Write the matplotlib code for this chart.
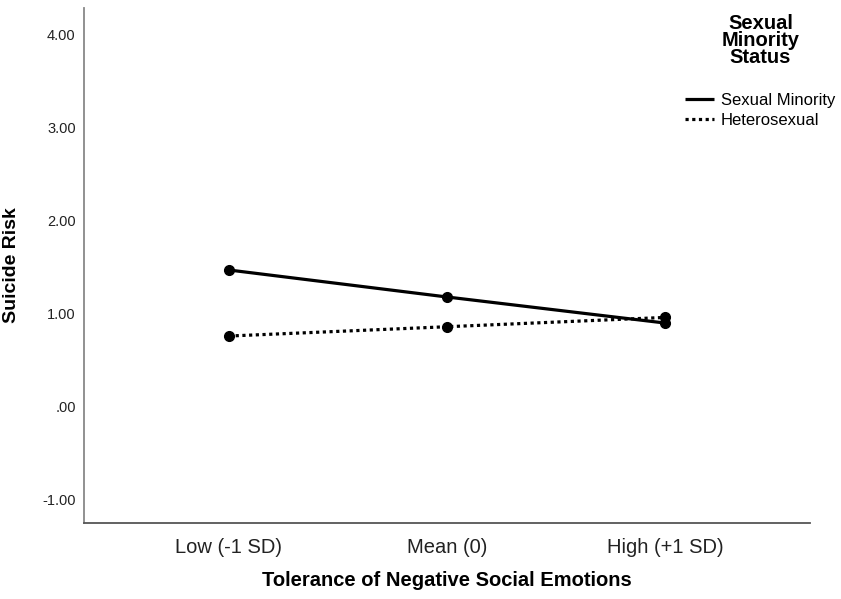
import matplotlib
matplotlib.use("Agg")
import matplotlib.pyplot as plt
from matplotlib.lines import Line2D

plt.rcParams['font.family'] = ['Liberation Sans', 'DejaVu Sans']

levels = ['Low (-1 SD)', 'Mean (0)', 'High (+1 SD)']
sexual_minority = [1.47, 1.18, 0.90]
heterosexual = [0.76, 0.86, 0.96]
y_ticks = [-1, 0, 1, 2, 3, 4]
y_tick_labels = ['-1.00', '.00', '1.00', '2.00', '3.00', '4.00']

dotted = (0, (1, 1.1))

fig = plt.figure(figsize=(8.41, 5.99), dpi=100)
ax = fig.add_axes([0.0999, 0.127, 0.863, 0.86])

x = range(len(levels))
ax.plot(x, sexual_minority, color='black', lw=2.3, marker='o', ms=7,
        solid_capstyle='butt')
ax.plot(x, heterosexual, color='black', lw=2.3, marker='o', ms=7,
        linestyle=dotted, dash_capstyle='butt')

ax.set_xlim(-0.665, 2.665)
ax.set_ylim(-1.25, 4.29)
ax.set_xticks(list(x))
ax.set_xticklabels(levels, fontsize=14.5, color='#222222')
ax.set_yticks(y_ticks)
ax.set_yticklabels(y_tick_labels, fontsize=10.5, color='#222222')
ax.tick_params(axis='y', length=0, pad=6)
ax.tick_params(axis='x', length=0, pad=11)

for side in ('top', 'right'):
    ax.spines[side].set_visible(False)
ax.spines['left'].set_color('#888888')
ax.spines['left'].set_linewidth(1.3)
ax.spines['bottom'].set_color('#555555')
ax.spines['bottom'].set_linewidth(1.3)

ax.set_ylabel('Suicide Risk', fontsize=14, fontweight='bold', labelpad=16)
ax.set_xlabel('Tolerance of Negative Social Emotions', fontsize=14.5,
              fontweight='bold', labelpad=10)

# legend handles are plain line samples, no markers
handles = [
    Line2D([], [], color='black', lw=2.3, solid_capstyle='butt'),
    Line2D([], [], color='black', lw=2.3, linestyle=dotted,
           dash_capstyle='butt'),
]
leg = ax.legend(handles, ['Sexual Minority', 'Heterosexual'],
                title='Sexual\nMinority\nStatus', loc='upper left',
                bbox_to_anchor=(0.797, 1.002), bbox_transform=fig.transFigure,
                frameon=False, fontsize=12, handlelength=1.75,
                handletextpad=0.4, labelspacing=0.3,
                title_fontproperties={'weight': 'bold', 'size': 14.5})
leg.get_title().set_multialignment('center')
leg.get_title().set_linespacing(0.86)
leg._legend_box.sep = 19

fig.savefig('out.png', dpi=100, facecolor='white')
